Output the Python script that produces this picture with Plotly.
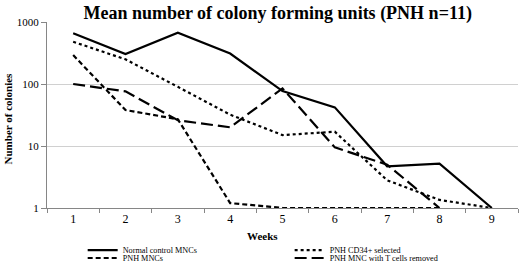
import plotly.graph_objects as go

weeks = ["1", "2", "3", "4", "5", "6", "7", "8", "9"]
normal_control = [660, 305, 670, 310, 77, 42, 4.7, 5.2, 1]
pnh_cd34 = [480, 250, 90, 32, 15, 17, 2.8, 1.35, 1]
pnh_mncs = [293, 38, 27, 1.2, 1, 1, 1, 1, None]
pnh_t_removed = [100, 76, 26, 20, 85, 9.5, 5, 1, None]

y_ticks = [1, 10, 100, 1000]
y_tick_text = ["1", "10", "100", "1000"]

SERIF = "Liberation Serif, Times New Roman, serif"

fig = go.Figure()
series = [
    ("Normal control MNCs", normal_control, "solid", "legend2"),
    ("PNH MNCs", pnh_mncs, "5px,3px", "legend3"),
    ("PNH CD34+ selected", pnh_cd34, "dot", "legend4"),
    ("PNH MNC with T cells removed", pnh_t_removed, "12px,5px", "legend5"),
]
for name, vals, dash, lg in series:
    fig.add_trace(go.Scatter(
        x=weeks, y=vals, name=name, mode="lines",
        line=dict(color="black", width=2.2, dash=dash),
        legend=lg, connectgaps=False,
    ))

def leg(x, y):
    return dict(x=x, y=y, xref="container", yref="container",
                xanchor="left", yanchor="middle", orientation="v",
                itemwidth=30, bgcolor="rgba(0,0,0,0)", borderwidth=0,
                font=dict(family=SERIF, size=8.2, color="black"),
                tracegroupgap=0, itemclick=False)

fig.update_layout(
    width=520, height=266,
    margin=dict(l=47, r=2, t=22, b=58, autoexpand=False),
    paper_bgcolor="white", plot_bgcolor="white",
    showlegend=True,
    title=dict(text="<b>Mean number of colony forming units (PNH n=11)</b>",
               xref="container", yref="container",
               x=0.534, xanchor="center", y=0.953, yanchor="middle",
               font=dict(family=SERIF, size=18, color="black")),
    xaxis=dict(type="category", tickson="boundaries", ticks="outside",
               ticklen=4, tickcolor="#868686", showline=True,
               linecolor="#868686", linewidth=1, showgrid=False,
               tickfont=dict(family=SERIF, size=12, color="black"),
               range=[-0.5, 8.5], fixedrange=True),
    yaxis=dict(type="log", range=[0, 3], tickvals=y_ticks, ticktext=y_tick_text,
               ticks="outside", ticklen=5, tickcolor="#868686",
               showline=True, linecolor="#868686", linewidth=1,
               showgrid=True, gridcolor="#d0d0d0", gridwidth=1,
               tickfont=dict(family=SERIF, size=11, color="black"),
               zeroline=False, fixedrange=True),
    legend2=leg(0.159, 0.060),
    legend3=leg(0.159, 0.030),
    legend4=leg(0.557, 0.060),
    legend5=leg(0.557, 0.030),
    annotations=[
        dict(text="<b>Weeks</b>", xref="paper", yref="paper",
             x=0.458, y=-0.1505, xanchor="center", yanchor="middle",
             showarrow=False,
             font=dict(family=SERIF, size=11, color="black")),
        dict(text="<b>Number of colonies</b>", xref="paper", yref="paper",
             x=-0.083, y=0.481, xanchor="center", yanchor="middle",
             textangle=-90, showarrow=False,
             font=dict(family=SERIF, size=11, color="black")),
    ],
)

fig.write_html("out.html", config={"displayModeBar": False},
               post_script="document.body.style.margin='0';document.body.style.padding='0';")
